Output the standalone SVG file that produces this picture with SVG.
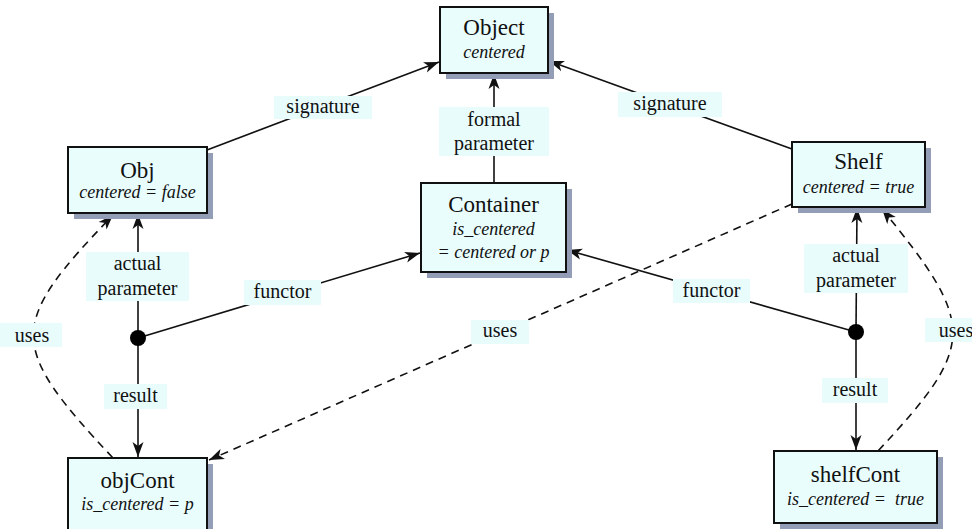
<svg xmlns="http://www.w3.org/2000/svg" width="972" height="529" viewBox="0 0 972 529">
<defs>
<style>
.box{fill:#e9fdfd;stroke:#111;stroke-width:2}
.shadow{fill:#939eb6}
.lbl{fill:#e8fcfc}
.t{font-family:"Liberation Serif","Times New Roman",serif;fill:#111;text-anchor:middle}
.title{font-size:23px}
.it{font-size:18px;font-style:italic}
.lt{font-size:20px}
.ln{fill:none;stroke:#111;stroke-width:1.6}
.dash{fill:none;stroke:#111;stroke-width:1.6;stroke-dasharray:8 6}
</style>
<marker id="arr" markerUnits="userSpaceOnUse" markerWidth="16" markerHeight="12" refX="15" refY="6" orient="auto">
<path d="M0,0.5 L15,6 L0,11.5 L4,6 Z" fill="#111" stroke="none"/>
</marker>
</defs>
<rect width="972" height="529" fill="#fff"/>

<g id="connectors">
<line class="ln" x1="207" y1="150" x2="439" y2="62" marker-end="url(#arr)"/>
<line class="ln" x1="792" y1="149" x2="549" y2="61" marker-end="url(#arr)"/>
<line class="ln" x1="494" y1="183" x2="494" y2="74" marker-end="url(#arr)"/>
<line class="ln" x1="138" y1="338" x2="138" y2="214" marker-end="url(#arr)"/>
<line class="ln" x1="138" y1="338" x2="138" y2="457" marker-end="url(#arr)"/>
<line class="ln" x1="138" y1="338" x2="420" y2="253" marker-end="url(#arr)"/>
<line class="ln" x1="856" y1="332" x2="857" y2="208" marker-end="url(#arr)"/>
<line class="ln" x1="856" y1="332" x2="856" y2="450" marker-end="url(#arr)"/>
<line class="ln" x1="856" y1="332" x2="567" y2="250" marker-end="url(#arr)"/>
<path class="dash" d="M792,204 L209,460" marker-end="url(#arr)"/>
<path class="dash" d="M113,458 C7,345 7,325 113,215" marker-end="url(#arr)"/>
<path class="dash" d="M878,451 C977,345 977,325 882,209" marker-end="url(#arr)"/>
<circle cx="138" cy="338" r="8" fill="#000"/>
<circle cx="856" cy="332" r="8" fill="#000"/>

<rect class="lbl" x="274" y="96" width="98" height="23"/>
<text class="t lt" x="323" y="113">signature</text>
<rect class="lbl" x="618" y="92" width="104" height="25"/>
<text class="t lt" x="670" y="110">signature</text>
<rect class="lbl" x="439" y="107" width="110" height="49"/>
<text class="t lt" x="494" y="126">formal</text>
<text class="t lt" x="494" y="150">parameter</text>
<rect class="lbl" x="86" y="252" width="103" height="49"/>
<text class="t lt" x="137.5" y="270">actual</text>
<text class="t lt" x="137.5" y="295">parameter</text>
<rect class="lbl" x="804" y="244" width="104" height="49"/>
<text class="t lt" x="856" y="262">actual</text>
<text class="t lt" x="856" y="287">parameter</text>
<rect class="lbl" x="244" y="280" width="77" height="25"/>
<text class="t lt" x="282.5" y="298">functor</text>
<rect class="lbl" x="673" y="279" width="77" height="24"/>
<text class="t lt" x="711.5" y="297">functor</text>
<rect class="lbl" x="471" y="320" width="58" height="24"/>
<text class="t lt" x="500" y="337">uses</text>
<rect class="lbl" x="0" y="323" width="62" height="24"/>
<text class="t lt" x="32" y="342">uses</text>
<rect class="lbl" x="925" y="318" width="47" height="24"/>
<text class="t lt" x="956" y="337">uses</text>
<rect class="lbl" x="104" y="384" width="63" height="25"/>
<text class="t lt" x="135.5" y="402">result</text>
<rect class="lbl" x="822" y="378" width="66" height="25"/>
<text class="t lt" x="855" y="396">result</text>
</g>

<g id="Object">
<rect class="shadow" x="446" y="13" width="108" height="66"/>
<rect class="box" x="440" y="7" width="108" height="66"/>
<text class="t title" x="494" y="35">Object</text>
<text class="t it" x="494" y="58">centered</text>
</g>

<g id="Container">
<rect class="shadow" x="427" y="189" width="145" height="89"/>
<rect class="box" x="421" y="183" width="145" height="89"/>
<text class="t title" x="493.5" y="212">Container</text>
<text class="t it" x="493.5" y="235">is_centered</text>
<text class="t it" x="493.5" y="258">= centered or p</text>
</g>

<g id="Obj">
<rect class="shadow" x="74" y="153" width="139" height="66"/>
<rect class="box" x="68" y="147" width="139" height="66"/>
<text class="t title" x="137.5" y="178">Obj</text>
<text class="t it" x="137.5" y="198">centered = false</text>
</g>

<g id="Shelf">
<rect class="shadow" x="798" y="148" width="133" height="65"/>
<rect class="box" x="792" y="142" width="133" height="65"/>
<text class="t title" x="858.5" y="169">Shelf</text>
<text class="t it" x="858.5" y="193">centered = true</text>
</g>

<g id="objCont">
<rect class="shadow" x="74" y="464" width="139" height="76"/>
<rect class="box" x="68" y="458" width="139" height="76"/>
<text class="t title" x="137.5" y="488">objCont</text>
<text class="t it" x="137.5" y="510">is_centered = p</text>
</g>

<g id="shelfCont">
<rect class="shadow" x="780" y="457" width="163" height="72"/>
<rect class="box" x="774" y="451" width="163" height="72"/>
<text class="t title" x="855.5" y="482">shelfCont</text>
<text class="t it" x="855.5" y="505" xml:space="preserve">is_centered =  true</text>
</g>
</svg>
